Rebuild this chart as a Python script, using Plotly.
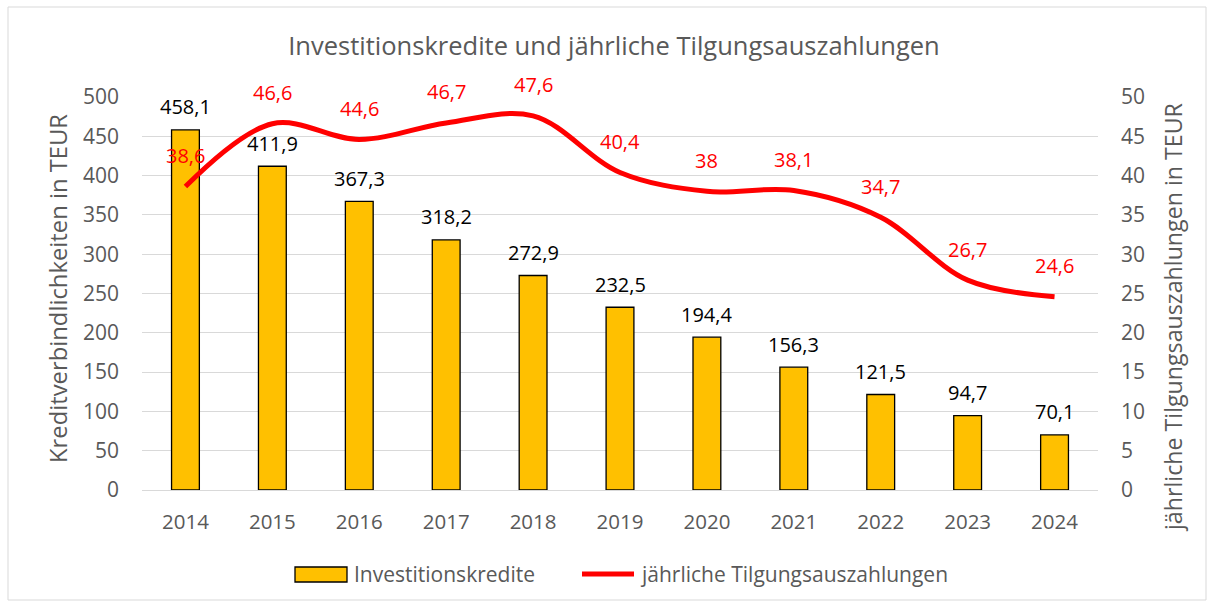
import plotly.graph_objects as go

years = ["2014", "2015", "2016", "2017", "2018", "2019", "2020", "2021", "2022", "2023", "2024"]
kredite = [458.1, 411.9, 367.3, 318.2, 272.9, 232.5, 194.4, 156.3, 121.5, 94.7, 70.1]
tilgung = [38.6, 46.6, 44.6, 46.7, 47.6, 40.4, 38.0, 38.1, 34.7, 26.7, 24.6]
bar_name = "Investitionskredite"
line_name = "jährliche Tilgungsauszahlungen"
title_text = "Investitionskredite und jährliche Tilgungsauszahlungen"
y1_title = "Kreditverbindlichkeiten in TEUR"
y2_title = "jährliche Tilgungsauszahlungen in TEUR"

def fmt(v):
    s = ("%.1f" % v)
    if s.endswith(".0"):
        s = s[:-2]
    return s.replace(".", ",")

FONT = "Open Sans"
GRAY = "#595959"
BAR_COLOR = "#FFC000"
LINE_COLOR = "#FF0000"

# plot area geometry (pixels)
L, R, T, B = 142, 116, 97, 118
W, H = 1214, 608
PW, PH = W - L - R, H - T - B

def px(x):
    return (x - L) / PW

def py(y):
    return (H - B - y) / PH

fig = go.Figure()
fig.add_trace(go.Bar(
    x=years, y=kredite, name=bar_name,
    marker=dict(color=BAR_COLOR, line=dict(color="#000000", width=1.3)),
    width=0.32, yaxis="y", showlegend=False,
))
fig.add_trace(go.Scatter(
    x=years, y=tilgung, name=line_name,
    mode="lines", line=dict(color=LINE_COLOR, width=5, shape="spline", smoothing=1.0),
    yaxis="y2", showlegend=False,
))

ann = []
for i, v in enumerate(kredite):
    ann.append(dict(x=i, y=v, xref="x", yref="y", text=fmt(v), showarrow=False,
                    yshift=23, font=dict(family=FONT, size=20, color="#000000")))
for i, v in enumerate(tilgung):
    ann.append(dict(x=i, y=v, xref="x", yref="y2", text=fmt(v), showarrow=False,
                    yshift=31, font=dict(family=FONT, size=20, color=LINE_COLOR)))

# axis titles
ann.append(dict(x=px(58), y=py(289), xref="paper", yref="paper", text=y1_title, showarrow=False,
                textangle=-90, xanchor="center", yanchor="middle",
                font=dict(family=FONT, size=23.8, color=GRAY)))
ann.append(dict(x=px(1173), y=py(318), xref="paper", yref="paper", text=y2_title, showarrow=False,
                textangle=-90, xanchor="center", yanchor="middle",
                font=dict(family=FONT, size=23.2, color=GRAY)))

# custom legend (wide bar swatch like the original)
ann.append(dict(x=px(352), y=py(574), xref="paper", yref="paper", text=bar_name, showarrow=False,
                xanchor="left", yanchor="middle", font=dict(family=FONT, size=21, color=GRAY)))
ann.append(dict(x=px(638), y=py(574), xref="paper", yref="paper", text=line_name, showarrow=False,
                xanchor="left", yanchor="middle", font=dict(family=FONT, size=21, color=GRAY)))

shapes = [
    dict(type="rect", xref="paper", yref="paper", x0=px(8), x1=px(1206), y0=py(600), y1=py(7),
         line=dict(color="#D9D9D9", width=1), layer="below"),
    dict(type="rect", xref="paper", yref="paper", x0=px(295), x1=px(347), y0=py(582), y1=py(567),
         fillcolor=BAR_COLOR, line=dict(color="#000000", width=1.3)),
    dict(type="line", xref="paper", yref="paper", x0=px(582), x1=px(634), y0=py(574), y1=py(574),
         line=dict(color=LINE_COLOR, width=5)),
]

fig.update_layout(
    width=W, height=H,
    paper_bgcolor="white", plot_bgcolor="white",
    margin=dict(l=L, r=R, t=T, b=B),
    font=dict(family=FONT, color=GRAY, size=20),
    showlegend=False,
    title=dict(text=title_text,
               x=614 / W, xanchor="center", y=1 - 46 / H, yanchor="middle",
               font=dict(family=FONT, size=25.5, color=GRAY)),
    xaxis=dict(type="category", showgrid=False, showline=True, linecolor="#D9D9D9", linewidth=1,
               ticks="", ticklabelstandoff=13, tickfont=dict(size=20.5, color=GRAY)),
    yaxis=dict(range=[0, 500], dtick=50, showgrid=True, gridcolor="#D9D9D9", gridwidth=1,
               zeroline=False, ticks="", ticklabelstandoff=22, tickfont=dict(size=21, color=GRAY)),
    yaxis2=dict(range=[0, 50], dtick=5, overlaying="y", side="right", showgrid=False,
                zeroline=False, ticks="", ticklabelstandoff=22, tickfont=dict(size=21, color=GRAY)),
    annotations=ann,
    shapes=shapes,
)

fig.write_html("out.html", post_script="document.body.style.margin='0';",
               config={"displayModeBar": False})
